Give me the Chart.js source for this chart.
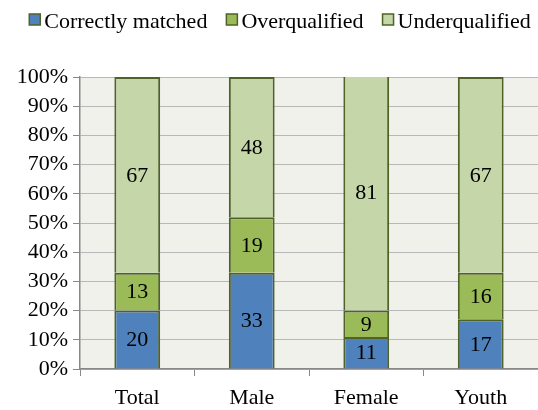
<!DOCTYPE html>
<html>
<head>
<meta charset="utf-8">
<script src="https://cdn.jsdelivr.net/npm/chart.js@4/dist/chart.umd.min.js"></script>
<style>
  html, body { margin: 0; padding: 0; background: #fff; }
  #wrap { width: 538px; height: 410px; }
</style>
</head>
<body>
<div id="wrap"><canvas id="chart"></canvas></div>
<script>
'use strict';

const categories   = ['Total', 'Male', 'Female', 'Youth'];
const seriesNames  = ['Correctly matched', 'Overqualified', 'Underqualified'];
const matched      = [20, 33, 11, 17];
const overqual     = [13, 19, 9, 16];
const underqual    = [67, 48, 81, 67];
const yTicks       = [0, 10, 20, 30, 40, 50, 60, 70, 80, 90, 100];

const FONT = "'Liberation Serif', 'Times New Roman', serif";
const FS   = 22;
const EDGE = '#4f6228';

// ─── plot area background ─────────────────────────────
const plotBg = {
  id: 'plotBg',
  beforeDraw(chart) {
    const { ctx, chartArea: a } = chart;
    ctx.save();
    ctx.fillStyle = '#eff1ea';
    ctx.fillRect(a.left, a.top, a.right - a.left, a.bottom - a.top);
    ctx.restore();
  },
};

// ─── compact legend: small square hugging the text ────
const tightLegend = {
  id: 'tightLegend',
  afterDraw(chart) {
    const { ctx } = chart;
    const box = 11, gapIn = 4, gapOut = 19;
    ctx.save();
    ctx.font = `${FS}px ${FONT}`;
    ctx.textBaseline = 'alphabetic';
    const items = chart.data.datasets.map(ds => ({
      ds, w: ctx.measureText(ds.label).width,
    }));
    const total = items.reduce((s, it) => s + box + gapIn + it.w, 0) + gapOut * (items.length - 1);
    let x = 280 - total / 2;
    items.forEach(({ ds, w }) => {
      ctx.fillStyle = ds.backgroundColor;
      ctx.fillRect(x, 14, box, box);
      ctx.strokeStyle = EDGE;
      ctx.lineWidth = 1.5;
      ctx.strokeRect(x, 14, box, box);
      ctx.fillStyle = '#000';
      ctx.textAlign = 'left';
      ctx.fillText(ds.label, x + box + gapIn, 28);
      x += box + gapIn + w + gapOut;
    });
    ctx.restore();
  },
};

// ─── value labels in the middle of each segment ───────
const barLabels = {
  id: 'barLabels',
  afterDatasetsDraw(chart) {
    const { ctx } = chart;
    ctx.save();
    ctx.font = `${FS}px ${FONT}`;
    ctx.fillStyle = '#000';
    ctx.textAlign = 'center';
    ctx.textBaseline = 'middle';
    chart.data.datasets.forEach((ds, di) => {
      chart.getDatasetMeta(di).data.forEach((bar, i) => {
        const mid = (bar.y + bar.base) / 2;
        ctx.fillText(String(ds.data[i]), bar.x, mid + 1);
      });
    });
    ctx.restore();
  },
};

const colors = ['#4f81bd', '#9bbb59', '#c5d6a8'];
const series = [matched, overqual, underqual];

new Chart(document.getElementById('chart').getContext('2d'), {
  type: 'bar',
  data: {
    labels: categories,
    datasets: series.map((data, i) => ({
      label: seriesNames[i],
      data,
      backgroundColor: colors[i],
      borderColor: EDGE,
      borderWidth: 2,
      borderSkipped: 'start',
      categoryPercentage: 1,
      barPercentage: 0.4,
    })),
  },
  options: {
    responsive: true,
    maintainAspectRatio: false,
    animation: false,
    layout: { padding: { top: 77, right: 0, bottom: 1, left: 0 } },
    plugins: {
      legend: { display: false },
      tooltip: { enabled: false },
    },
    scales: {
      x: {
        stacked: true,
        afterFit: s => { s.height = 40; },
        grid: {
          offset: true,
          drawOnChartArea: false,
          drawTicks: true,
          tickLength: 7,
          color: '#888',
        },
        border: { display: true, color: '#888', width: 1.5 },
        ticks: { font: { family: FONT, size: FS }, color: '#000', padding: 9 },
      },
      y: {
        stacked: true,
        min: 0,
        max: 100,
        afterFit: s => { s.width = 80; },
        afterBuildTicks: s => { s.ticks = yTicks.map(v => ({ value: v })); },
        grid: {
          color: '#b8b8b8',
          borderDash: [3, 2],
          tickLength: 7,
          tickColor: '#888',
          tickBorderDash: [],
        },
        border: { display: true, color: '#888', width: 1.5 },
        ticks: {
          font: { family: FONT, size: FS },
          color: '#000',
          padding: 5,
          autoSkip: false,
          callback: v => v + '%',
        },
      },
    },
  },
  plugins: [plotBg, tightLegend, barLabels],
});
</script>
</body>
</html>
